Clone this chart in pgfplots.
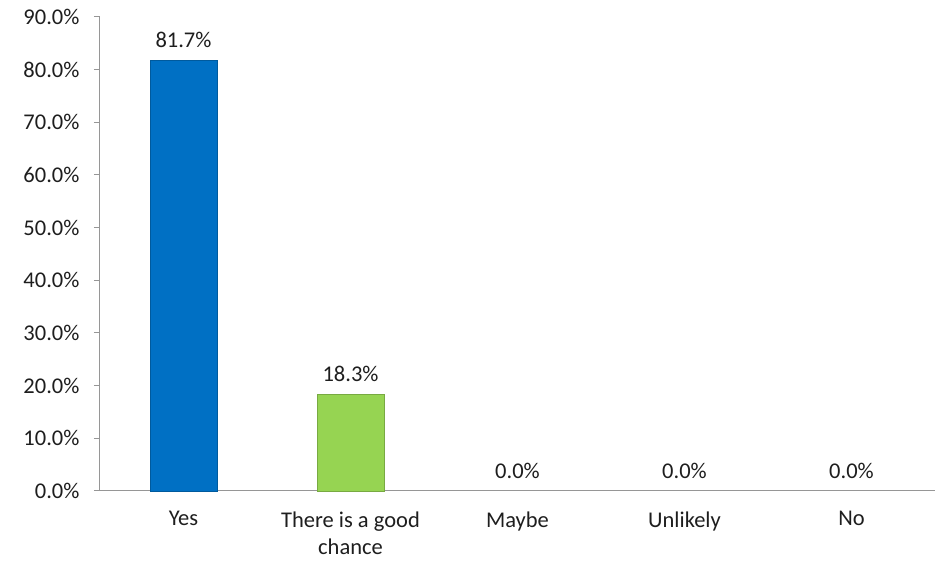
\documentclass[border=0pt]{standalone}
\usepackage{pgfplots}
\pgfplotsset{compat=1.18}
\usepackage{fontspec}
\setmainfont{Carlito}
\definecolor{barblue}{RGB}{0,112,196}
\definecolor{bargreen}{RGB}{150,212,82}
\definecolor{axisgray}{RGB}{150,150,150}
\definecolor{txt}{RGB}{30,30,30}
\begin{document}
\begin{tikzpicture}
\begin{axis}[
  name=ax,
  scale only axis,
  width=835pt, height=474pt,
  xmin=-0.5, xmax=4.5,
  ymin=0, ymax=90,
  axis lines*=left,
  axis line style={axisgray, line width=1pt},
  every tick/.style={axisgray, line width=1pt},
  tick align=outside,
  ytick={0,10,...,90},
  major tick length=6pt,
  yticklabel={\pgfmathprintnumber[fixed,fixed zerofill,precision=1]{\tick}\%},
  /pgf/number format/assume math mode=true,
  yticklabel style={font=\fontsize{22.5}{27}\selectfont, text=txt, xshift=-11pt},
  xtick={0,1,2,3,4},
  xticklabels={Yes, {There is a good\\chance}, Maybe, Unlikely, No},
  xticklabel style={font=\fontsize{22.5}{27}\selectfont, text=txt, align=center, yshift=-11pt},
  x tick style={draw=none},
  minor xtick={-0.5,0.5,1.5,2.5,3.5,4.5},
  minor tick length=8pt,
  minor x tick style={axisgray, line width=1pt},
  ybar, bar width=0.4, bar shift=0pt,
  nodes near coords={\pgfmathprintnumber[fixed,fixed zerofill,precision=1]{\pgfplotspointmeta}\%},
  nodes near coords style={font=\fontsize{22.5}{27}\selectfont, text=txt, yshift=9pt},
  clip=false,
]
\addplot[fill=barblue, draw=barblue!80!black, line width=0.6pt] coordinates {(0,81.7)};
\addplot[fill=bargreen, draw=bargreen!80!black, line width=0.6pt] coordinates {(1,18.3)};
\addplot[draw=none, fill=none] coordinates {(2,0) (3,0) (4,0)};
\end{axis}
\path ([shift={(-100pt,-73pt)}]ax.south west) rectangle ([shift={(4pt,17pt)}]ax.north east);
\end{tikzpicture}
\end{document}
